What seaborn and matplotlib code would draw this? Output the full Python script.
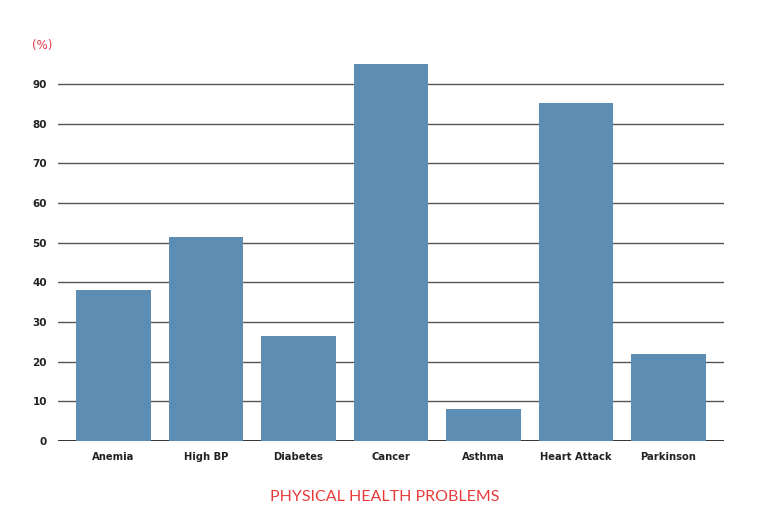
import matplotlib
matplotlib.use("Agg")
import matplotlib.pyplot as plt
import seaborn as sns
import pandas as pd

categories = ["Anemia", "High BP", "Diabetes", "Cancer", "Asthma", "Heart Attack", "Parkinson"]
values = [38, 51.5, 26.5, 95, 8.1, 85.2, 22]
yticks = [0, 10, 20, 30, 40, 50, 60, 70, 80, 90]

sns.set_theme(style="white")
plt.rcParams["font.family"] = ["DejaVu Sans"]

df = pd.DataFrame({"problem": categories, "pct": values})

fig = plt.figure(figsize=(7.7, 5.3), dpi=100)
ax = fig.add_axes([58/770, 1-441/530, (724-58)/770, (441-60)/530])

sns.barplot(data=df, x="problem", y="pct", color="#5d8db3", saturation=1,
            width=0.81, ax=ax, zorder=3, linewidth=0, edgecolor="none")

ax.set_xlim(-0.6, 6.6)
ax.set_ylim(0, 96)
ax.set_yticks(yticks)
ax.set_yticklabels([str(t) for t in yticks], fontsize=7.5, fontweight="bold", color="#222222")
ax.set_xticklabels(categories, fontsize=7.2, fontweight="bold", color="#222222")
for t in yticks:
    ax.axhline(t, color="#111111" if t == 0 else "#555555", lw=1.2 if t == 0 else 1.0, zorder=1)
for s in ax.spines.values():
    s.set_visible(False)
ax.tick_params(axis="y", length=0, pad=8)
ax.tick_params(axis="x", length=0, pad=8)
ax.set_xlabel("")
ax.set_ylabel("")
ax.grid(False)

fig.text(42/770, 1-45/530, "(%)", color="#e8394a", fontsize=8.5, ha="center", va="center")
fig.text(385/770, 1-497/530, "PHYSICAL HEALTH PROBLEMS", color="#e83a3a", fontsize=11.5,
         ha="center", va="center", family=["Lato", "DejaVu Sans"], fontweight="normal")

fig.savefig("out.png", dpi=100)
